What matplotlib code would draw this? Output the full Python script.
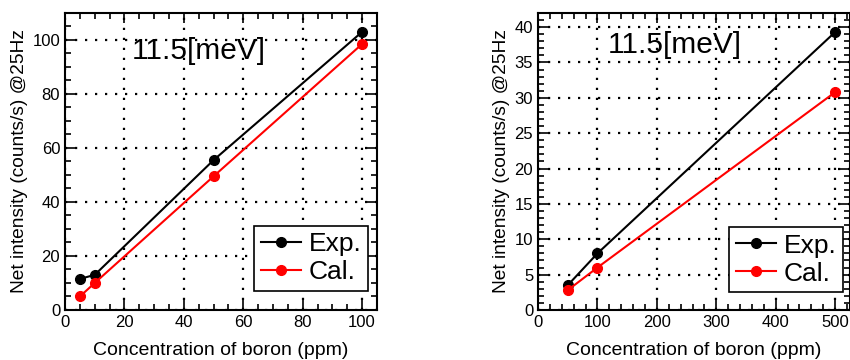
import matplotlib
matplotlib.use("Agg")
import matplotlib.pyplot as plt
from matplotlib.ticker import MultipleLocator

plt.rcParams['font.family'] = ['Liberation Sans', 'DejaVu Sans']

# left panel data
conc_a = [5, 10, 50, 100]
exp_a = [11.5, 13, 55.5, 103]
cal_a = [5, 10, 49.5, 98.5]

# right panel data
conc_b = [50, 100, 500]
exp_b = [3.5, 8, 39.3]
cal_b = [2.8, 6, 30.8]

label_txt = "11.5[meV]"
xlab = "Concentration of boron (ppm)"
ylab = "Net intensity (counts/s) @25Hz"

fig = plt.figure(figsize=(8.5, 3.6), dpi=100)
ax1 = fig.add_axes([0.0765, 0.139, 0.367, 0.825])
ax2 = fig.add_axes([0.633, 0.139, 0.367, 0.825])


def style(ax, xmaj, xmin, ymaj, ymin):
    ax.xaxis.set_major_locator(MultipleLocator(xmaj))
    ax.xaxis.set_minor_locator(MultipleLocator(xmin))
    ax.yaxis.set_major_locator(MultipleLocator(ymaj))
    ax.yaxis.set_minor_locator(MultipleLocator(ymin))
    ax.tick_params(which='both', direction='in', top=True, right=True, width=1.2, labelsize=12)
    ax.tick_params(which='major', length=7)
    ax.tick_params(which='minor', length=4)
    for s in ax.spines.values():
        s.set_linewidth(1.5)
    ax.grid(True, which='major', color='black', linestyle=(0, (1, 3.5)), linewidth=1.6)
    ax.set_axisbelow(True)
    ax.set_xlabel(xlab, fontsize=14, labelpad=9)
    ax.set_ylabel(ylab, fontsize=13.8, labelpad=3)


def add_legend(ax, anchor):
    leg = ax.legend(loc='lower right', bbox_to_anchor=anchor, fontsize=19,
                    frameon=True, fancybox=False, edgecolor='black', framealpha=1,
                    handlelength=1.5, handletextpad=0.3, borderpad=0.25,
                    labelspacing=0.15, borderaxespad=0)
    leg.get_frame().set_linewidth(1.2)


ax1.plot(conc_a, exp_a, '-o', color='black', lw=1.5, ms=7, label='Exp.')
ax1.plot(conc_a, cal_a, '-o', color='red', lw=1.5, ms=7, label='Cal.')
ax1.set_xlim(0, 105)
ax1.set_ylim(0, 110)
style(ax1, 20, 5, 20, 5)
ax1.text(45, 96, label_txt, fontsize=21.5, ha='center', va='center')
add_legend(ax1, (0.971, 0.064))

ax2.plot(conc_b, exp_b, '-o', color='black', lw=1.5, ms=7, label='Exp.')
ax2.plot(conc_b, cal_b, '-o', color='red', lw=1.5, ms=7, label='Cal.')
ax2.set_xlim(0, 525)
ax2.set_ylim(0, 42)
style(ax2, 100, 20, 5, 1)
ax2.text(230, 37.5, label_txt, fontsize=21.5, ha='center', va='center')
add_legend(ax2, (0.977, 0.06))

fig.savefig("out.png", dpi=100)
